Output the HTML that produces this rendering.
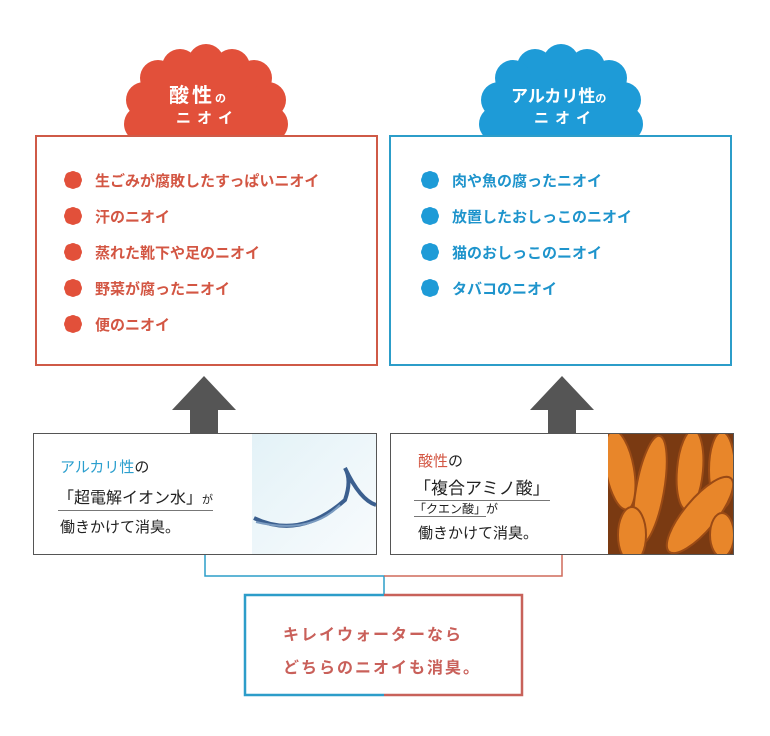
<!DOCTYPE html>
<html><head><meta charset="utf-8"><style>
body{margin:0;width:770px;height:736px;background:#fff;position:relative;overflow:hidden;font-family:"Liberation Sans","Noto Sans CJK JP",sans-serif;}
.a{position:absolute;}
.li{position:absolute;font-size:15px;font-weight:bold;white-space:nowrap;}
</style></head><body>
<svg class="a" style="left:0;top:0" width="770" height="736">
 <defs>
  <clipPath id="cp"><rect x="0" y="0" width="770" height="137"/></clipPath>
  <clipPath id="cc"><rect x="608" y="434" width="125" height="120"/></clipPath>
  <g id="cl">
   <ellipse cx="0" cy="0" rx="66" ry="42"/>
   <circle cx="0" cy="-36" r="18"/><circle cx="-26" cy="-31" r="18"/><circle cx="26" cy="-31" r="18"/>
   <circle cx="-48" cy="-20" r="18"/><circle cx="48" cy="-20" r="18"/>
   <circle cx="-62" cy="2" r="18"/><circle cx="62" cy="2" r="18"/>
   <circle cx="-64" cy="26" r="18"/><circle cx="64" cy="26" r="18"/>
   <rect x="-60" y="10" width="120" height="40"/>
  </g>
  <g id="dt"><circle r="7"/><circle cx="0" cy="-4" r="5"/><circle cx="0" cy="4" r="5"/><circle cx="-4" cy="0" r="5"/><circle cx="4" cy="0" r="5"/><circle cx="3" cy="3" r="5"/><circle cx="-3" cy="-3" r="5"/><circle cx="3" cy="-3" r="5"/><circle cx="-3" cy="3" r="5"/></g>
 </defs>
 <g clip-path="url(#cp)">
 <use href="#cl" x="206" y="98" fill="#e2503a"/>
 <use href="#cl" x="561" y="98" fill="#1e9bd7"/>
 </g>
 <rect x="36" y="136" width="341" height="229" fill="#fff" stroke="#cf5a47" stroke-width="2"/>
 <rect x="390" y="136" width="341" height="229" fill="#fff" stroke="#2c9dc9" stroke-width="2"/>
 <g fill="#e2503a"><use href="#dt" x="73" y="180"/><use href="#dt" x="73" y="216"/><use href="#dt" x="73" y="252"/><use href="#dt" x="73" y="288"/><use href="#dt" x="73" y="324"/></g>
 <g fill="#1e9bd7"><use href="#dt" x="430" y="180"/><use href="#dt" x="430" y="216"/><use href="#dt" x="430" y="252"/><use href="#dt" x="430" y="288"/></g>
 <g fill="#555"><polygon points="172,410 204,376 236,410"/><rect x="190" y="409" width="28" height="25"/>
 <polygon points="530,410 562,376 594,410"/><rect x="548" y="409" width="28" height="25"/></g>
 <rect x="33.5" y="433.5" width="343" height="121" fill="#fff" stroke="#555"/>
 <rect x="390.5" y="433.5" width="343" height="121" fill="#fff" stroke="#555"/>
 <defs><linearGradient id="w" x1="0" y1="0" x2="1" y2="1"><stop offset="0" stop-color="#e3f2f7"/><stop offset="1" stop-color="#f8fbfd"/></linearGradient></defs>
 <rect x="252" y="434" width="124" height="120" fill="url(#w)"/>
 <path d="M254 518 Q300 540 345 500 Q352 480 345 468 Q360 500 376 505" fill="none" stroke="#3b5f8f" stroke-width="4"/>
 <path d="M256 522 Q310 535 340 505" fill="none" stroke="#7a9bc0" stroke-width="2"/>
 <rect x="608" y="434" width="125" height="120" fill="#7a3a12"/>
 <g fill="#e8862a" stroke="#9a4a15" stroke-width="2" clip-path="url(#cc)">
  <ellipse cx="620" cy="470" rx="14" ry="40" transform="rotate(-10 620 470)"/>
  <ellipse cx="650" cy="490" rx="14" ry="55" transform="rotate(10 650 490)"/>
  <ellipse cx="690" cy="470" rx="13" ry="40" transform="rotate(5 690 470)"/>
  <ellipse cx="722" cy="470" rx="13" ry="38"/>
  <ellipse cx="700" cy="515" rx="16" ry="48" transform="rotate(40 700 515)"/>
  <ellipse cx="632" cy="535" rx="14" ry="28"/>
  <ellipse cx="722" cy="535" rx="12" ry="22"/>
 </g>
 <polyline points="205,555 205,576 384,576 384,594" fill="none" stroke="#2c9dc9" stroke-width="1.5"/>
 <polyline points="562,555 562,576 384,576" fill="none" stroke="#cf6a5a" stroke-width="1.5"/>
 <polyline points="384,595 245,595 245,695 384,695" fill="none" stroke="#2c9dc9" stroke-width="2.5"/>
 <polyline points="384,595 522,595 522,695 384,695" fill="none" stroke="#c8625a" stroke-width="2.5"/>
</svg>
<div class="a" style="left:169px;top:79px;color:#fff;font-size:20px;font-weight:bold;letter-spacing:3px">酸性<span style="font-size:11px">の</span></div>
<div class="a" style="left:176px;top:107px;color:#fff;font-size:15px;font-weight:bold;letter-spacing:6px">ニオイ</div>
<div class="a" style="left:511px;top:82px;color:#fff;font-size:17px;font-weight:bold">アルカリ性<span style="font-size:11px">の</span></div>
<div class="a" style="left:534px;top:107px;color:#fff;font-size:15px;font-weight:bold;letter-spacing:6px">ニオイ</div>
<div style="color:#d35643">
<div class="li" style="left:95px;top:170px">生ごみが腐敗したすっぱいニオイ</div>
<div class="li" style="left:95px;top:206px">汗のニオイ</div>
<div class="li" style="left:95px;top:242px">蒸れた靴下や足のニオイ</div>
<div class="li" style="left:95px;top:278px">野菜が腐ったニオイ</div>
<div class="li" style="left:95px;top:314px">便のニオイ</div></div>
<div style="color:#1e94cc">
<div class="li" style="left:452px;top:170px">肉や魚の腐ったニオイ</div>
<div class="li" style="left:452px;top:206px">放置したおしっこのニオイ</div>
<div class="li" style="left:452px;top:242px">猫のおしっこのニオイ</div>
<div class="li" style="left:452px;top:278px">タバコのニオイ</div></div>
<div class="a" style="left:60px;top:456px;font-size:15px;color:#222"><span style="color:#2b9fce">アルカリ性</span>の</div>
<div class="a" style="left:58px;top:484px;font-size:16px;color:#222;border-bottom:1px solid #777;padding-bottom:2px">「超電解イオン水」<span style="font-size:11px">が</span></div>
<div class="a" style="left:60px;top:516px;font-size:15px;color:#222">働きかけて消臭。</div>
<div class="a" style="left:418px;top:450px;font-size:15px;color:#222"><span style="color:#d35643">酸性</span>の</div>
<div class="a" style="left:414px;top:474px;font-size:17px;color:#222;border-bottom:1px solid #777;padding-bottom:1px">「複合アミノ酸」</div>
<div class="a" style="left:414px;top:500px;font-size:12px;color:#222"><span style="border-bottom:1px solid #777">「クエン酸」</span>が</div>
<div class="a" style="left:418px;top:522px;font-size:15px;color:#222">働きかけて消臭。</div>
<div class="a" style="left:283px;top:621px;font-size:16px;font-weight:bold;color:#c9605a;letter-spacing:2px">キレイウォーターなら</div>
<div class="a" style="left:283px;top:654px;font-size:16px;font-weight:bold;color:#c9605a;letter-spacing:2px">どちらのニオイも消臭。</div>
</body></html>
